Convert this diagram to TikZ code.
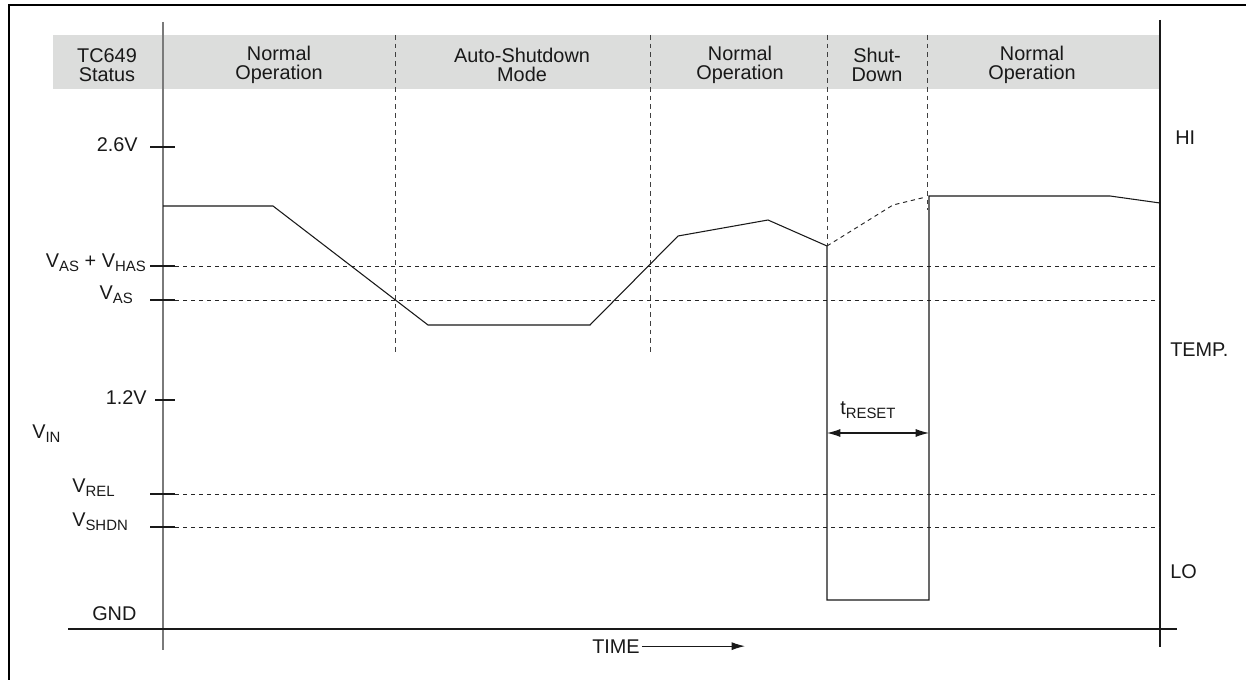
\documentclass[tikz,border=0pt]{standalone}
\usepackage{fontspec}
\setmainfont{Liberation Sans}
\usetikzlibrary{arrows.meta}

\definecolor{bandgray}{HTML}{DCDDDC}
\definecolor{axisgray}{HTML}{7A7A7A}
\newcommand{\lowidx}[1]{\raisebox{-2.6pt}{\fontsize{11.2}{11.2}\selectfont #1}}

\begin{document}
\begin{tikzpicture}[x=0.75pt,y=-0.75pt,
  txt/.style={font=\fontsize{14.9}{14.3}\selectfont, inner sep=0pt, text=black!90},
  status/.style={txt, align=center},
  level/.style={black!85, line width=0.7pt, dash pattern=on 3.2pt off 2.8pt},
  divider/.style={black!75, line width=0.65pt, dash pattern=on 3.5pt off 3pt},
  trace/.style={black!90, line width=0.8pt},
  tickmark/.style={black!90, line width=0.8pt},
  resetspan/.style={{Latex[length=10pt,width=6pt]}-{Latex[length=10pt,width=6pt]}, black!90, line width=0.8pt}
]
\useasboundingbox (0,0) rectangle (1246,680);
\draw[line width=1.6pt] (1246,5) -- (9,5) -- (9,680);

% status band
\fill[bandgray] (53,35) rectangle (1160,89);
\node[status] (tc)   at (107,65)  {TC649\\Status};
\node[status] (op1)  at (279,65)  {Normal\\Operation};
\node[status] (auto) at (522,65)  {Auto-Shutdown\\Mode};
\node[status] (op2)  at (740,65)  {Normal\\Operation};
\node[status] (shd)  at (877,65)  {Shut-\\Down};
\node[status] (op3)  at (1032,65) {Normal\\Operation};

\foreach \x/\y [count=\i] in {395/355, 650/355, 827/246, 927/210} {
  \coordinate (dv\i t) at (\x,35);
  \coordinate (dv\i b) at (\x,\y);
  \draw[divider] (dv\i t) -- (dv\i b);
}

% axes
\coordinate (lt) at (163,22);
\coordinate (lb) at (163,650);
\coordinate (rt) at (1160,20);
\coordinate (rb) at (1160,647);
\coordinate (gl) at (68,629);
\coordinate (gr) at (1177,629);
\draw[axisgray, line width=1.1pt] (lt) -- (lb);
\draw[black!90, line width=0.9pt] (rt) -- (rb);
\draw[black!90, line width=0.9pt] (gl) -- (gr);

% thresholds
\foreach \y/\n in {266/hys, 300/as, 494/rel, 527/shdn} {
  \coordinate (\n l) at (150,\y);
  \coordinate (\n m) at (175,\y);
  \coordinate (\n r) at (1160,\y);
  \draw[tickmark] (\n l) -- (\n m);
  \draw[level] (\n m) -- (\n r);
}
\coordinate (hi l) at (150,147);
\coordinate (hi r) at (175,147);
\coordinate (lo l) at (155,400);
\coordinate (lo r) at (175,400);
\draw[tickmark] (hi l) -- (hi r);
\draw[tickmark] (lo l) -- (lo r);

% vin trace
\coordinate (s0) at (163,206);
\coordinate (s1) at (273,206);
\coordinate (s2) at (428,325);
\coordinate (s3) at (590,325);
\coordinate (s4) at (678,236);
\coordinate (s5) at (768,220);
\coordinate (s6) at (827,246);
\coordinate (p1) at (827,600);
\coordinate (p2) at (929,600);
\coordinate (p3) at (929,196);
\coordinate (s7) at (1110,196);
\coordinate (s8) at (1160,203);
\coordinate (r1) at (893,205);
\coordinate (r2) at (926,197);
\draw[trace] (s0) -- (s1) -- (s2) -- (s3) -- (s4) -- (s5) -- (s6)
  -- (p1) -- (p2) -- (p3) -- (s7) -- (s8);
\draw[level] (s6) -- (r1) -- (r2);

% reset time
\coordinate (ta) at (827,433);
\coordinate (tb) at (929,433);
\draw[resetspan] (ta) -- (tb);
\node[txt, anchor=base west] (treset) at (840,415) {t\lowidx{RESET}};

% labels
\node[txt, anchor=base east] (v26)  at (138,152) {2.6V};
\node[txt, anchor=base east] (vhys) at (146,268) {V\lowidx{AS} + V\lowidx{HAS}};
\node[txt, anchor=base east] (vas)  at (133,300) {V\lowidx{AS}};
\node[txt, anchor=base east] (v12)  at (147,405) {1.2V};
\node[txt, anchor=base west] (vin)  at (32,439)  {V\lowidx{IN}};
\node[txt, anchor=base west] (vrel) at (72,493)  {V\lowidx{REL}};
\node[txt, anchor=base west] (vshd) at (72,527)  {V\lowidx{SHDN}};
\node[txt, anchor=base west] (gnd)  at (92,620)  {GND};
\node[txt, anchor=base west] (hi)   at (1175,145) {HI};
\node[txt, anchor=base west] (temp) at (1170,357) {TEMP.};
\node[txt, anchor=base west] (lo)   at (1170,579) {LO};

% time axis
\node[txt, anchor=base west] (time) at (592,653) {TIME};
\coordinate (tend) at (745,648);
\draw[-{Latex[length=10pt,width=6pt]}, black!90, line width=0.8pt] ([xshift=1.5pt]time.east) -- (time.east -| tend);
\end{tikzpicture}
\end{document}
